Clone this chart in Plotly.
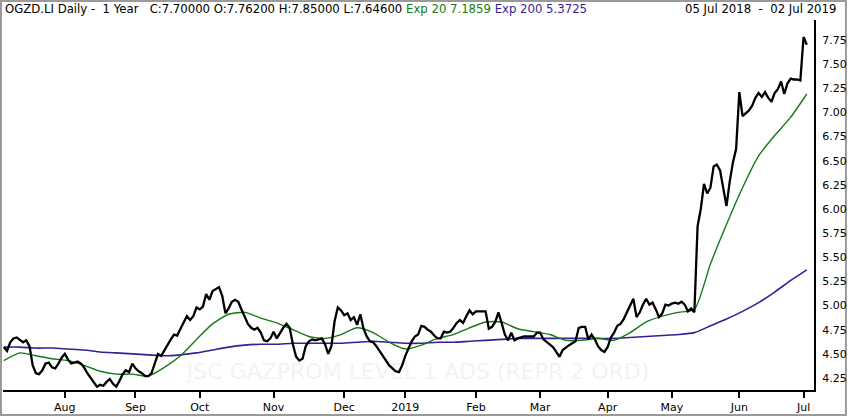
import pandas as pd
import plotly.graph_objects as go

# fechamentos diarios, um vetor por mes
close_jul18 = [4.57, 4.53, 4.62, 4.66, 4.67, 4.64, 4.62, 4.64, 4.58, 4.38, 4.30, 4.29, 4.33, 4.40, 4.41, 4.36, 4.35, 4.40, 4.46]
close_aug18 = [4.50, 4.44, 4.40, 4.41, 4.42, 4.40, 4.36, 4.30, 4.25, 4.20, 4.16, 4.18, 4.17, 4.21, 4.24, 4.19, 4.16, 4.22, 4.29, 4.33, 4.31, 4.40]
close_sep18 = [4.35, 4.32, 4.30, 4.27, 4.27, 4.30, 4.40, 4.50, 4.48, 4.54, 4.60, 4.65, 4.70, 4.69, 4.76, 4.83, 4.89, 4.85, 4.89, 4.98]
close_oct18 = [4.96, 4.99, 5.12, 5.06, 5.15, 5.17, 5.19, 5.10, 4.92, 4.97, 5.04, 5.06, 5.04, 4.96, 4.89, 4.81, 4.77, 4.75, 4.77, 4.72, 4.64, 4.63, 4.66]
close_nov18 = [4.73, 4.66, 4.72, 4.77, 4.81, 4.77, 4.60, 4.47, 4.43, 4.45, 4.58, 4.63, 4.65, 4.64, 4.65, 4.66, 4.60, 4.50, 4.58, 4.84, 4.98, 4.95]
close_dec18 = [4.90, 4.92, 4.85, 4.88, 4.80, 4.91, 4.76, 4.68, 4.63, 4.62, 4.58, 4.53, 4.48, 4.43, 4.38, 4.35, 4.32, 4.31, 4.38]
close_jan19 = [4.48, 4.56, 4.63, 4.68, 4.70, 4.79, 4.78, 4.75, 4.73, 4.69, 4.66, 4.66, 4.73, 4.72, 4.73, 4.77, 4.82, 4.85, 4.82, 4.89, 4.95, 4.91]
close_feb19 = [4.94, 4.94, 4.94, 4.94, 4.76, 4.78, 4.83, 4.93, 4.82, 4.70, 4.64, 4.72, 4.64, 4.66, 4.67, 4.68, 4.68, 4.68, 4.68, 4.72]
close_mar19 = [4.72, 4.65, 4.62, 4.60, 4.57, 4.52, 4.47, 4.54, 4.57, 4.59, 4.61, 4.63, 4.77, 4.78, 4.78, 4.65, 4.70, 4.65, 4.58, 4.54, 4.52]
close_apr19 = [4.57, 4.67, 4.72, 4.79, 4.81, 4.86, 4.93, 4.99, 5.07, 4.88, 4.93, 5.01, 5.07, 5.01, 5.03, 4.96, 4.88, 4.92, 5.01, 5.00]
close_may19 = [5.02, 5.03, 5.02, 5.04, 5.01, 4.94, 4.97, 4.93, 5.82, 6.00, 6.26, 6.16, 6.22, 6.44, 6.46, 6.40, 6.22, 6.03, 6.28, 6.48, 6.62]
close_jun19 = [7.21, 6.96, 6.99, 7.02, 7.07, 7.15, 7.20, 7.16, 7.21, 7.15, 7.11, 7.20, 7.24, 7.32, 7.19, 7.30, 7.35, 7.34, 7.34, 7.33]
close_jul19 = [7.78, 7.70]

# medias exponenciais, lidas a cada 5 pregoes
ema20_5d = [4.43, 4.51, 4.48, 4.45, 4.43, 4.38, 4.32, 4.29, 4.29, 4.27,
            4.36, 4.48, 4.65, 4.81, 4.91, 4.93, 4.87, 4.82, 4.75, 4.68,
            4.66, 4.70, 4.77, 4.72, 4.62, 4.55, 4.59, 4.66, 4.70, 4.77,
            4.83, 4.83, 4.76, 4.73, 4.70, 4.64, 4.64, 4.66, 4.64, 4.72,
            4.83, 4.89, 4.93, 4.96, 5.43, 5.84, 6.22, 6.55, 6.76, 6.95, 7.19]
ema200_5d = [4.57, 4.57, 4.56, 4.56, 4.55, 4.54, 4.52, 4.51, 4.50, 4.49,
             4.48, 4.49, 4.51, 4.54, 4.57, 4.59, 4.60, 4.60, 4.61, 4.61,
             4.61, 4.61, 4.62, 4.63, 4.62, 4.61, 4.61, 4.62, 4.62, 4.63,
             4.64, 4.65, 4.66, 4.66, 4.66, 4.66, 4.66, 4.66, 4.66, 4.67,
             4.68, 4.69, 4.70, 4.72, 4.79, 4.86, 4.94, 5.03, 5.14, 5.26, 5.37]

feriados = ["2018-08-27", "2018-12-25", "2018-12-26", "2019-01-01",
            "2019-04-19", "2019-04-22", "2019-05-06", "2019-05-27"]
tick_datas = ["2018-08-01", "2018-09-03", "2018-10-01", "2018-11-01", "2018-12-03", "2019-01-02",
              "2019-02-01", "2019-03-01", "2019-04-01", "2019-05-01", "2019-06-03", "2019-07-01"]
tick_textos = ["Aug", "Sep", "Oct", "Nov", "Dec", "2019", "Feb", "Mar", "Apr", "May", "Jun", "Jul"]

dias = pd.bdate_range("2018-07-05", "2019-07-02")
dias = dias[~dias.isin(pd.to_datetime(feriados))]

close = (close_jul18 + close_aug18 + close_sep18 + close_oct18 + close_nov18 + close_dec18 +
         close_jan19 + close_feb19 + close_mar19 + close_apr19 + close_may19 + close_jun19 + close_jul19)
assert len(close) == len(dias)
dias_5 = dias[::5]

VERDE = "#157a15"
ROXO = "#3a1e94"

fig = go.Figure()
# marca d'agua por baixo das linhas
fig.add_trace(go.Scatter(x=["2019-01-08"], y=[4.30], mode='text', hoverinfo='skip',
                         text=["JSC GAZPROM LEVEL 1 ADS (REPR 2 ORD)"],
                         textfont=dict(size=22, color='#f3f3f3')))
fig.add_trace(go.Scatter(x=dias_5, y=ema200_5d, mode='lines', name='Exp 200',
                         line=dict(color=ROXO, width=1.6, shape='spline', smoothing=0.6)))
fig.add_trace(go.Scatter(x=dias_5, y=ema20_5d, mode='lines', name='Exp 20',
                         line=dict(color=VERDE, width=1.4, shape='spline', smoothing=0.6)))
fig.add_trace(go.Scatter(x=dias, y=close, mode='lines', name='OGZD.LI',
                         line=dict(color='black', width=2.3)))

# largura da area de plotagem em pixels (850 - 3 - 34) e altura (417 - 20 - 26)
W, H = 813, 371

fig.update_layout(
    width=850, height=417,
    margin=dict(l=3, r=34, t=20, b=26),
    plot_bgcolor='white', paper_bgcolor='white',
    showlegend=False,
    font=dict(family="DejaVu Sans", size=11, color='black'),
    xaxis=dict(
        type='date',
        range=["2018-07-04 18:00", "2019-07-04 06:00"],
        rangebreaks=[dict(bounds=["sat", "mon"]), dict(values=feriados)],
        tickvals=tick_datas, ticktext=tick_textos,
        showgrid=False, zeroline=False,
        showline=True, linecolor='black', linewidth=2,
        ticks='outside', ticklen=6, tickwidth=1.5, tickcolor='black',
    ),
    yaxis=dict(
        side='right',
        range=[4.126, 7.956],
        tick0=4.25, dtick=0.25, tickformat='.2f',
        showgrid=False, zeroline=False,
        showline=True, linecolor='black', linewidth=2,
        ticks='', ticklabelstandoff=4,
    ),
)

# cabecalho
cabecalho = ("OGZD.LI Daily -\u00a0\u00a01 Year\u00a0\u00a0\u00a0C:7.70000 O:7.76200 H:7.85000 L:7.64600 "
             f"<span style='color:{VERDE}'>Exp 20 7.1859</span> "
             f"<span style='color:{ROXO}'>Exp 200 5.3725</span>")
fig.add_annotation(text=cabecalho, xref='paper', yref='paper', x=0, y=1,
                   xanchor='left', yanchor='bottom', xshift=0, yshift=2,
                   showarrow=False, font=dict(size=11.7))
fig.add_annotation(text="05 Jul 2018\u00a0\u00a0-\u00a0\u00a002 Jul 2019", xref='paper', yref='paper',
                   x=1, y=1, xanchor='right', yanchor='bottom', xshift=24, yshift=2,
                   showarrow=False, font=dict(size=11.7))

# moldura cinza em volta da imagem
fig.add_shape(type='rect', xref='paper', yref='paper',
              x0=-2 / W, x1=(848 - 3) / W, y0=-(417 - 1 - 391) / H, y1=(20 - 1) / H + 1,
              line=dict(color='#9a9a9a', width=2), layer='below')

fig.write_html("out.html", config={'displayModeBar': False},
               post_script="document.body.style.margin='0';")
